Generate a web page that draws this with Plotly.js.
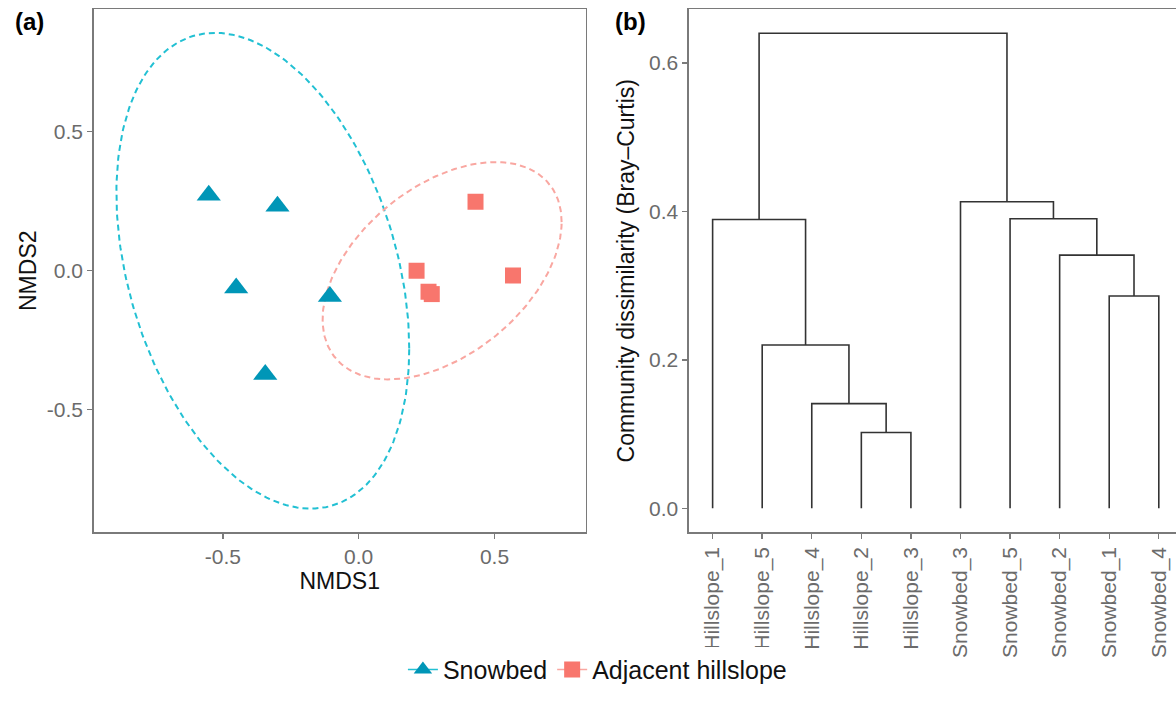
<!DOCTYPE html>
<html>
<head>
<meta charset="utf-8">
<script src="https://cdn.plot.ly/plotly-3.0.1.min.js"></script>
<style>html,body{margin:0;padding:0;background:#fff;}#chart{width:1176px;height:714px;}</style>
</head>
<body>
<div id="chart"></div>
<script>
// ---------- Panel (a): NMDS ordination ----------
const groupNames = ["Snowbed", "Adjacent hillslope"];
const snowbedNMDS1 = [-0.552, -0.299, -0.451, -0.106, -0.344];
const snowbedNMDS2 = [0.272, 0.232, -0.062, -0.093, -0.373];
const hillslopeNMDS1 = [0.430, 0.213, 0.568, 0.257, 0.269];
const hillslopeNMDS2 = [0.248, 0.000, -0.017, -0.0755, -0.084];

// ellipse: centre, half width, half height, x-shift of topmost point
const ellipseCenterX = [-0.353, 0.307];
const ellipseCenterY = [0.000, 0.000];
const ellipseHalfWidth = [0.539, 0.440];
const ellipseHalfHeight = [0.856, 0.391];
const ellipseTopShift = [-0.176, 0.197];

const nmdsTicks = [-0.5, 0, 0.5];
const nmdsTickText = ["-0.5", "0.0", "0.5"];

// ---------- Panel (b): dendrogram ----------
const leafLabels = ["Hillslope_1","Hillslope_5","Hillslope_4","Hillslope_2","Hillslope_3",
                    "Snowbed_3","Snowbed_5","Snowbed_2","Snowbed_1","Snowbed_4"];
// merges: leaf names or "m<k>" referencing earlier merge k (1-based)
const mergeLeft   = ["Hillslope_2","Hillslope_4","Hillslope_5","Snowbed_1","Snowbed_2","Hillslope_1","Snowbed_5","Snowbed_3","m6"];
const mergeRight  = ["Hillslope_3","m1","m2","Snowbed_4","m4","m3","m5","m7","m8"];
const mergeHeight = [0.102, 0.141, 0.220, 0.286, 0.341, 0.389, 0.390, 0.413, 0.640];
const dissimTicks = [0, 0.2, 0.4, 0.6];
const dissimTickText = ["0.0", "0.2", "0.4", "0.6"];

// ---------- build ----------
const FONT = "Liberation Sans, Arial, sans-serif";
const snowMarker = "#0096B7", snowLine = "#22C0D3";
const hillMarker = "#F8766D", hillLine = "#F9A7A1";

function ellipse(i) {
  const hw = ellipseHalfWidth[i], hh = ellipseHalfHeight[i];
  const sxy = ellipseTopShift[i] * hh;
  const l21 = sxy / hw, l22 = Math.sqrt(hh * hh - l21 * l21);
  const xs = [], ys = [];
  for (let k = 0; k <= 240; k++) {
    const t = 2 * Math.PI * k / 240;
    xs.push(ellipseCenterX[i] + hw * Math.cos(t));
    ys.push(ellipseCenterY[i] + l21 * Math.cos(t) + l22 * Math.sin(t));
  }
  return {xs, ys};
}
const e0 = ellipse(0), e1 = ellipse(1);

// dendrogram coordinates
const pos = {};
leafLabels.forEach((l, i) => pos[l] = {x: i + 1, h: 0});
const dx = [], dy = [];
mergeHeight.forEach((h, k) => {
  const L = pos[mergeLeft[k]], R = pos[mergeRight[k]];
  dx.push(L.x, L.x, R.x, R.x, null);
  dy.push(L.h, h, h, R.h, null);
  pos["m" + (k + 1)] = {x: (L.x + R.x) / 2, h: h};
});

const traces = [
  {x: e0.xs, y: e0.ys, mode: "lines", line: {color: snowLine, width: 2, dash: "6px,4px"}, showlegend: false, hoverinfo: "skip", xaxis: "x", yaxis: "y"},
  {x: e1.xs, y: e1.ys, mode: "lines", line: {color: hillLine, width: 2, dash: "6px,4px"}, showlegend: false, hoverinfo: "skip", xaxis: "x", yaxis: "y"},
  {x: snowbedNMDS1, y: snowbedNMDS2, mode: "markers", marker: {symbol: "triangle-up", size: 21, color: snowMarker}, showlegend: false, xaxis: "x", yaxis: "y"},
  {x: hillslopeNMDS1, y: hillslopeNMDS2, mode: "markers", marker: {symbol: "square", size: 16, color: hillMarker}, showlegend: false, xaxis: "x", yaxis: "y"},
  {x: [null], y: [null], name: groupNames[0], mode: "lines+markers", marker: {symbol: "triangle-up", size: 21, color: snowMarker}, line: {color: snowLine, width: 1.5}, xaxis: "x", yaxis: "y"},
  {x: [null], y: [null], name: groupNames[1], mode: "lines+markers", marker: {symbol: "square", size: 16, color: hillMarker}, line: {color: hillLine, width: 1.5}, xaxis: "x", yaxis: "y"},
  {x: dx, y: dy, mode: "lines", line: {color: "#333333", width: 1.6}, showlegend: false, hoverinfo: "skip", xaxis: "x2", yaxis: "y2"}
];

const axisCommon = {
  showgrid: false, zeroline: false, showline: true, linecolor: "#7a7a7a", linewidth: 1.6,
  ticks: "outside", ticklen: 5, tickwidth: 1.4, tickcolor: "#7a7a7a",
  tickfont: {family: FONT, size: 21, color: "#6b6b6b"}
};

const layout = {
  width: 1176, height: 714,
  margin: {l: 0, r: 0, t: 0, b: 0},
  paper_bgcolor: "#fff", plot_bgcolor: "#fff",
  font: {family: FONT},
  xaxis: Object.assign({}, axisCommon, {
    domain: [0.0798, 0.4979], range: [-0.975, 0.835], mirror: true, anchor: "y",
    tickvals: nmdsTicks, ticktext: nmdsTickText,
    title: {text: "NMDS1", font: {family: FONT, size: 23, color: "#111"}, standoff: 6}
  }),
  yaxis: Object.assign({}, axisCommon, {
    domain: [0.2549, 0.9867], range: [-0.94, 0.94], mirror: true, anchor: "x",
    tickvals: nmdsTicks, ticktext: nmdsTickText,
    title: {text: "NMDS2", font: {family: FONT, size: 23, color: "#111"}, standoff: 4}
  }),
  xaxis2: Object.assign({}, axisCommon, {
    domain: [0.5859, 1.0], range: [0.524, 10.347], mirror: true, anchor: "y2",
    tickvals: leafLabels.map((l, i) => i + 1), ticktext: leafLabels, tickangle: -90
  }),
  yaxis2: Object.assign({}, axisCommon, {
    domain: [0.2549, 0.9867], range: [-0.032, 0.672], mirror: false, anchor: "x2",
    tickvals: dissimTicks, ticktext: dissimTickText,
    title: {text: "Community dissimilarity (Bray\u2013Curtis)", font: {family: FONT, size: 23, color: "#111"}, standoff: 8}
  }),
  legend: {orientation: "h", x: 0.508, xanchor: "center", y: 0.062, yanchor: "middle",
           font: {family: FONT, size: 25, color: "#111"}, itemwidth: 30, tracegroupgap: 0},
  annotations: [
    {text: "<b>(a)</b>", x: 29 / 1176, y: 1 - 21 / 714, xref: "paper", yref: "paper", showarrow: false, xanchor: "center", yanchor: "middle", font: {family: FONT, size: 24, color: "#000"}},
    {text: "<b>(b)</b>", x: 630 / 1176, y: 1 - 21 / 714, xref: "paper", yref: "paper", showarrow: false, xanchor: "center", yanchor: "middle", font: {family: FONT, size: 24, color: "#000"}}
  ]
};

Plotly.newPlot("chart", traces, layout, {displayModeBar: false, staticPlot: true});
</script>
</body>
</html>
